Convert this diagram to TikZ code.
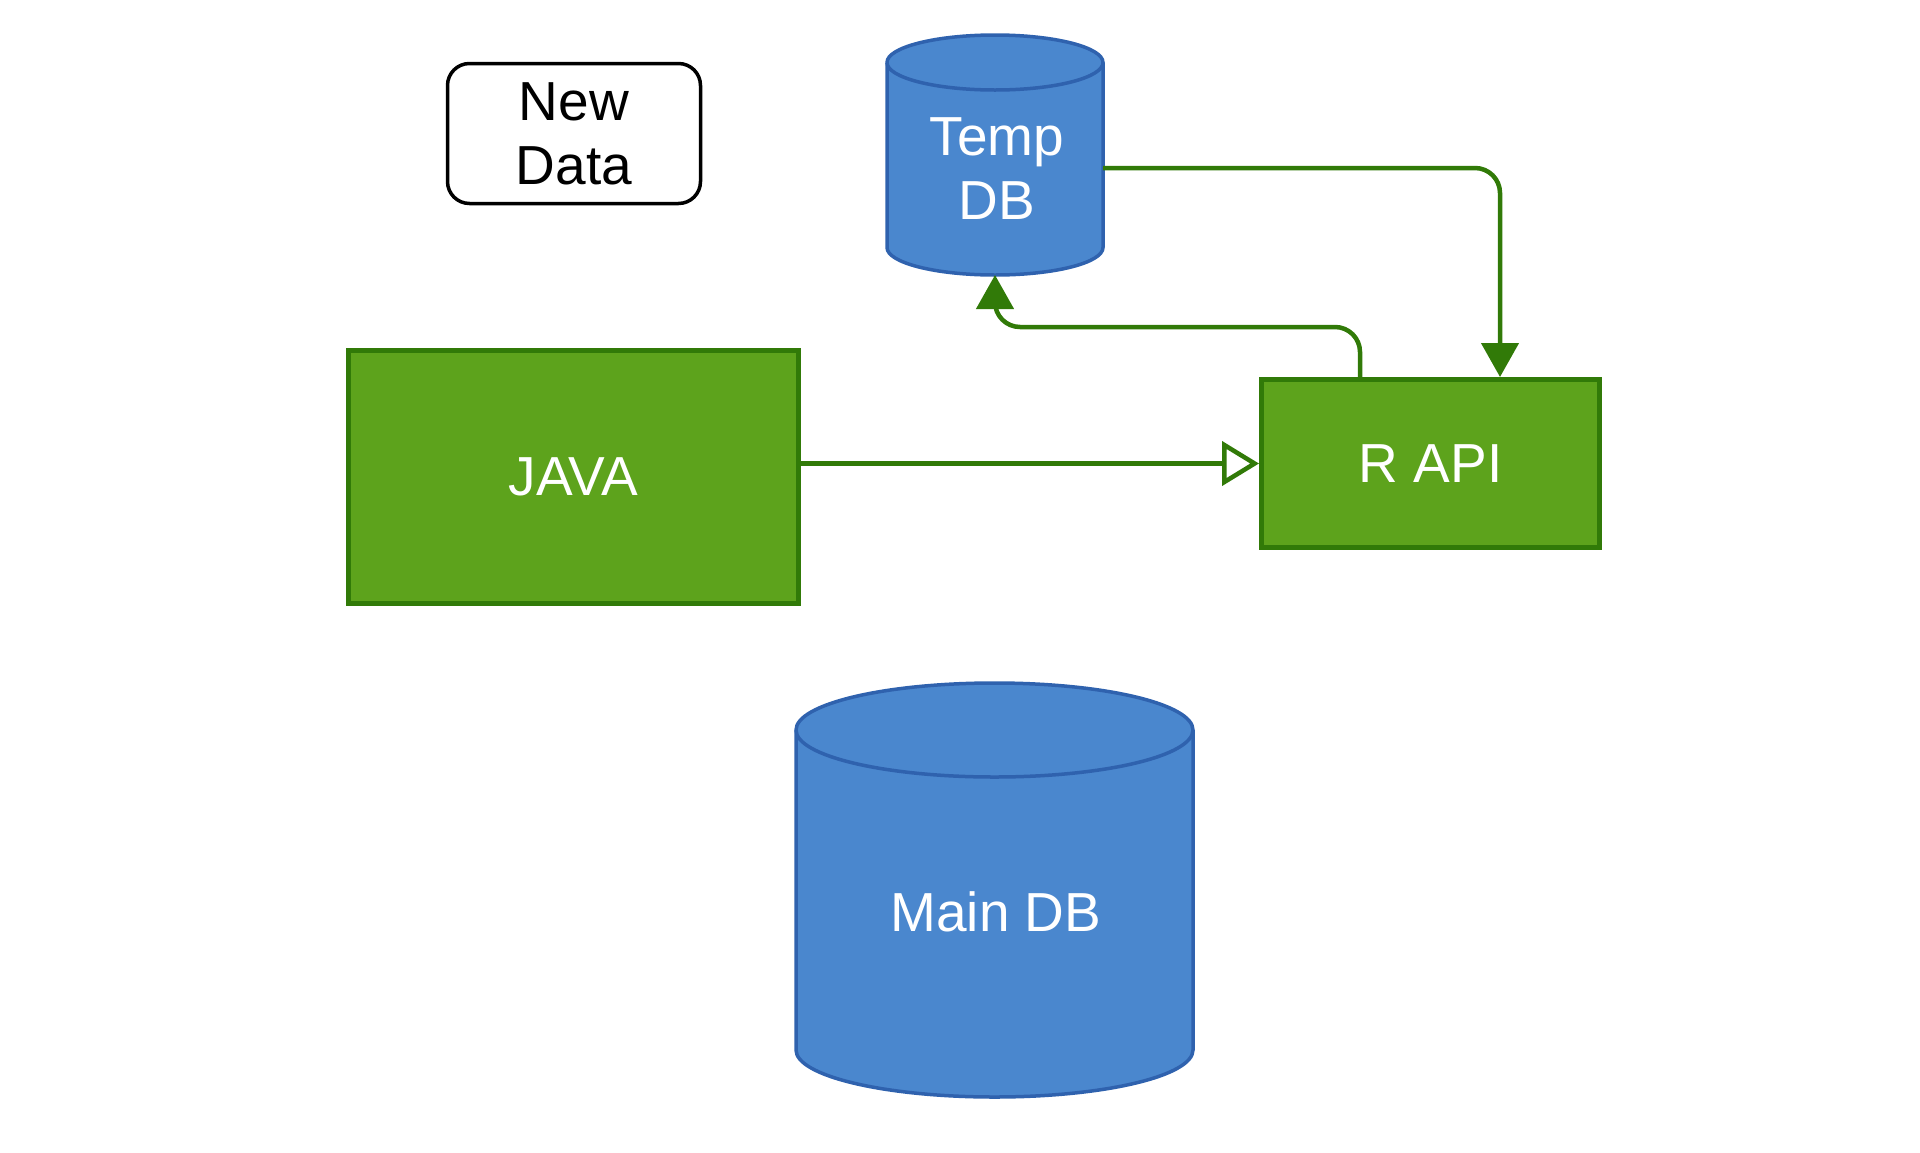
\documentclass[tikz,border=0pt]{standalone}
\usepackage{fontspec}
\setmainfont{Liberation Sans}
\usetikzlibrary{arrows.meta}
\definecolor{gfill}{HTML}{5DA31C}
\definecolor{gline}{HTML}{317A08}
\definecolor{bfill}{HTML}{4A87CE}
\definecolor{bline}{HTML}{2F62AE}
\begin{document}
\begin{tikzpicture}[x=1pt,y=-1pt,
 txt/.style={font=\fontsize{55}{64}\selectfont, align=center},
 gbox/.style={draw=gline, fill=gfill, line width=5pt, text=white, txt, inner sep=0pt},
 nbox/.style={draw=black, fill=white, line width=3.5pt, rounded corners=22pt, txt, inner sep=0pt},
 dbarea/.style={inner sep=0pt, outer sep=0pt},
 dbline/.style={draw=bline, fill=bfill, line width=3.5pt},
 conn/.style={draw=gline, line width=4.5pt, rounded corners=25pt},
 solidtip/.style={-{Triangle[length=34pt,width=37pt]}},
 opentip/.style={-{Triangle[open,length=37pt,width=44pt,fill=white]}},
]
\useasboundingbox (0,0) rectangle (1920,1152);

% nodes
\node[nbox, minimum width=253pt, minimum height=140pt] (newdata) at (574,133.5) {New\\Data};
\node[dbarea, minimum width=216pt, minimum height=240pt] (tempdb) at (995,155) {};
\node[gbox, minimum width=450pt, minimum height=253pt] (java) at (573.5,477) {JAVA};
\node[gbox, minimum width=338pt, minimum height=168pt] (rapi) at (1430.5,463.5) {R API};
\node[dbarea, minimum width=397pt, minimum height=414pt] (maindb) at (994.5,890) {};

% Temp DB cylinder
\path[dbline] ([yshift=-27.5pt]tempdb.north west) -- ([yshift=27.5pt]tempdb.south west)
  arc[start angle=180, end angle=360, x radius=108pt, y radius=27.5pt]
  -- ([yshift=-27.5pt]tempdb.north east)
  arc[start angle=0, end angle=180, x radius=108pt, y radius=27.5pt] -- cycle;
\draw[draw=bline, line width=3.5pt] ([yshift=-27.5pt]tempdb.north west)
  arc[start angle=180, end angle=360, x radius=108pt, y radius=27.5pt];
\node[txt, text=white] (tempdbtext) at (997,169) {Temp\\DB};

% Main DB cylinder
\path[dbline] ([yshift=-47pt]maindb.north west) -- ([yshift=47pt]maindb.south west)
  arc[start angle=180, end angle=360, x radius=198.5pt, y radius=47pt]
  -- ([yshift=-47pt]maindb.north east)
  arc[start angle=0, end angle=180, x radius=198.5pt, y radius=47pt] -- cycle;
\draw[draw=bline, line width=3.5pt] ([yshift=-47pt]maindb.north west)
  arc[start angle=180, end angle=360, x radius=198.5pt, y radius=47pt];
\node[txt, text=white] (maindbtext) at (996,912) {Main DB};

% connectors
\draw[conn, solidtip] ([yshift=-13pt]tempdb.east) -| ([xshift=69.5pt]rapi.north);
\draw[conn, solidtip] ([xshift=-70.5pt]rapi.north) -- ++(0,-50) -| (tempdb.south);
\draw[conn, opentip, rounded corners=0pt] (java.east |- rapi.west) -- (rapi.west);
\end{tikzpicture}
\end{document}
